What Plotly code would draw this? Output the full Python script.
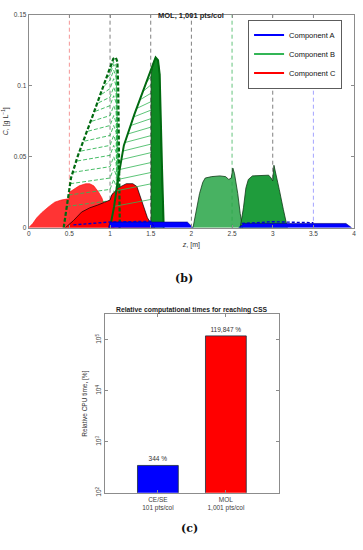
import plotly.graph_objects as go

# ---------------- Panel (b): MOL, 1,001 pts/col ----------------
z_ticks = [0, 0.5, 1, 1.5, 2, 2.5, 3, 3.5, 4]
z_tick_text = ['0', '0.5', '1', '1.5', '2', '2.5', '3', '3.5', '4']
c_ticks = [0, 0.05, 0.1, 0.15]
c_tick_text = ['0', '0.05', '0.1', '0.15']

# column boundaries / port positions (dashed vertical lines)
section_z = [0.5, 1, 1.5, 2, 2.5, 3, 3.5]

# Component C (red) profile envelopes
c1_z = [0, 0.05, 0.1, 0.16, 0.25, 0.32, 0.4, 0.5, 0.5, 0.55, 0.62, 0.7, 0.75, 0.8, 0.86, 0.9, 0.95, 1.0, 1.05]
c1_c = [0, 0.003, 0.007, 0.0106, 0.015, 0.018, 0.0195, 0.0205, 0.025, 0.027, 0.0295, 0.031, 0.031, 0.0295, 0.025, 0.021, 0.012, 0.004, 0]
c2_z = [0.45, 0.55, 0.65, 0.75, 0.85, 0.95, 1.0, 1.02, 1.1, 1.2, 1.28, 1.33, 1.37, 1.42, 1.46, 1.52, 1.55]
c2_c = [0, 0.005, 0.011, 0.014, 0.016, 0.018, 0.0195, 0.023, 0.028, 0.031, 0.031, 0.029, 0.022, 0.014, 0.007, 0.0015, 0]

# Component B (green): dashed profile family (zone 0.5-1.1 m)
b_dash_dark_z = [0.43, 0.46, 0.5, 0.52, 0.6, 0.7, 0.8, 0.9, 1.0, 1.04, 1.07, 1.09, 1.1, 1.11, 1.12]
b_dash_dark_c = [0, 0.012, 0.028, 0.035, 0.05, 0.065, 0.081, 0.097, 0.112, 0.119, 0.120, 0.117, 0.10, 0.05, 0]
b_dash_z = [
    [0.469, 1.0, 1.045, 1.075, 1.1, 1.115],
    [0.489, 1.0, 1.045, 1.075, 1.1, 1.115],
    [0.510, 1.0, 1.045, 1.075, 1.1, 1.115],
    [0.545, 1.0, 1.045, 1.075, 1.1, 1.115],
    [0.596, 1.0, 1.045, 1.075, 1.1, 1.115],
    [0.641, 1.0, 1.045, 1.075, 1.1, 1.115],
    [0.686, 1.0, 1.045, 1.075, 1.1, 1.115],
    [0.730, 1.0, 1.045, 1.075, 1.1, 1.115],
    [0.775, 1.0, 1.045, 1.075, 1.1, 1.115],
    [0.819, 1.0, 1.045, 1.075, 1.1, 1.115],
    [0.858, 1.0, 1.045, 1.075, 1.1, 1.115],
    [0.896, 1.0, 1.045, 1.075, 1.1, 1.115],
    [0.934, 1.0, 1.045, 1.075, 1.1, 1.115],
    [0.973, 1.0, 1.045, 1.075, 1.1, 1.115],
    [1.004, 1.045, 1.075, 1.1, 1.115],
]
b_dash_c = [
    [0.015, 0.019, 0.026, 0.021, 0.006, 0],
    [0.023, 0.027, 0.034, 0.029, 0.009, 0],
    [0.031, 0.035, 0.042, 0.037, 0.012, 0],
    [0.039, 0.043, 0.050, 0.045, 0.016, 0],
    [0.047, 0.051, 0.058, 0.053, 0.019, 0],
    [0.054, 0.058, 0.065, 0.060, 0.022, 0],
    [0.061, 0.065, 0.072, 0.067, 0.024, 0],
    [0.068, 0.072, 0.079, 0.074, 0.027, 0],
    [0.075, 0.079, 0.086, 0.081, 0.030, 0],
    [0.082, 0.086, 0.093, 0.088, 0.033, 0],
    [0.088, 0.092, 0.099, 0.094, 0.035, 0],
    [0.094, 0.098, 0.105, 0.100, 0.038, 0],
    [0.100, 0.104, 0.111, 0.106, 0.040, 0],
    [0.106, 0.108, 0.115, 0.111, 0.042, 0],
    [0.111, 0.117, 0.114, 0.044, 0],
]

# Component B: solid profile family (zone 1.0-1.66 m)
b_solid_dark_z = [1.0, 1.05, 1.1, 1.17, 1.3, 1.45, 1.53, 1.56, 1.59, 1.61, 1.64, 1.66]
b_solid_dark_c = [0, 0.015, 0.035, 0.058, 0.08, 0.103, 0.116, 0.120, 0.118, 0.108, 0.04, 0]
b_solid_z = [
    [1.050, 1.51], [1.078, 1.51], [1.098, 1.51], [1.118, 1.51], [1.140, 1.51],
    [1.158, 1.51], [1.182, 1.51], [1.217, 1.51], [1.253, 1.51], [1.288, 1.51],
    [1.326, 1.51], [1.365, 1.51], [1.404, 1.51], [1.443, 1.51], [1.481, 1.51],
]
b_solid_c = [
    [0.015, 0.020], [0.026, 0.031], [0.034, 0.039], [0.041, 0.046], [0.048, 0.053],
    [0.054, 0.059], [0.060, 0.065], [0.066, 0.071], [0.072, 0.077], [0.078, 0.083],
    [0.084, 0.089], [0.090, 0.095], [0.096, 0.101], [0.102, 0.107], [0.108, 0.111],
]
b_band_z = [1.505, 1.505, 1.53, 1.56, 1.59, 1.61, 1.635, 1.66]
b_band_c = [0, 0.108, 0.116, 0.120, 0.118, 0.108, 0.04, 0]

# Component B: plateaus in the 2-3.2 m zone
b_blob1_z = [2.02, 2.06, 2.1, 2.14, 2.17, 2.25, 2.35, 2.42, 2.46, 2.49, 2.51, 2.53, 2.57, 2.6, 2.63]
b_blob1_c = [0, 0.012, 0.024, 0.032, 0.035, 0.036, 0.0365, 0.036, 0.034, 0.035, 0.042, 0.038, 0.024, 0.01, 0]
b_blob2_z = [2.6, 2.64, 2.67, 2.7, 2.75, 2.85, 2.95, 2.98, 3.0, 3.015, 3.04, 3.08, 3.13, 3.18]
b_blob2_c = [0, 0.014, 0.028, 0.034, 0.0365, 0.037, 0.037, 0.035, 0.033, 0.044, 0.038, 0.027, 0.013, 0]

# Component A (blue)
a1_z = [0.98, 1.0, 1.95, 2.02]
a1_c = [0, 0.004, 0.004, 0]
a2_z = [2.58, 2.65, 3.9, 3.97]
a2_c = [0, 0.003, 0.003, 0]
a_dash1_z = [0.55, 1.0, 1.5, 1.55]
a_dash1_c = [0.002, 0.004, 0.0045, 0]
a_dash2_z = [2.62, 3.0, 3.5]
a_dash2_c = [0.003, 0.0042, 0.0035]

# ---------------- Panel (c): relative CPU times ----------------
methods = ['CE/SE<br>101 pts/col', 'MOL<br>1,001 pts/col']
rel_time = [344, 119847]
rel_labels = ['344 %', '119,847 %']
log_ticks = [1e2, 1e3, 1e4, 1e5]
log_tick_text = ['10<sup>2</sup>', '10<sup>3</sup>', '10<sup>4</sup>', '10<sup>5</sup>']

RED = '#ff0000'
GREEN_L = '#33b556'
GREEN_D = '#006a10'
BLUE = '#0000ff'
FONT = 'Liberation Sans, Arial, sans-serif'

fig = go.Figure()
T = dict(xaxis='x', yaxis='y', showlegend=False, hoverinfo='skip')

# red zone 1 (striped)
fig.add_trace(go.Scatter(x=c1_z, y=c1_c, mode='lines', fill='tozeroy',
                         fillcolor='rgba(255,30,30,0.9)', line=dict(color='rgba(255,0,0,1)', width=0.6), **T))
# light dashed green family
for zz, cc in zip(b_dash_z, b_dash_c):
    fig.add_trace(go.Scatter(x=zz, y=cc, mode='lines',
                             line=dict(color=GREEN_L, width=0.9, dash='4px,2px'), **T))
# red zone 2 (solid, black outline)
fig.add_trace(go.Scatter(x=c2_z, y=c2_c, mode='lines', fill='tozeroy',
                         fillcolor=RED, line=dict(color='#000000', width=0.7), **T))
# dark dashed green
fig.add_trace(go.Scatter(x=b_dash_dark_z, y=b_dash_dark_c, mode='lines',
                         line=dict(color=GREEN_D, width=2.2, dash='4px,2px'), **T))
# light solid green family
for zz, cc in zip(b_solid_z, b_solid_c):
    fig.add_trace(go.Scatter(x=zz, y=cc, mode='lines',
                             line=dict(color=GREEN_L, width=0.8), **T))
# dense green band
fig.add_trace(go.Scatter(x=b_band_z, y=b_band_c, mode='lines', fill='tozeroy',
                         fillcolor='#0d8a22', line=dict(color='#0a4010', width=0.8), **T))
# dark solid green
fig.add_trace(go.Scatter(x=b_solid_dark_z, y=b_solid_dark_c, mode='lines',
                         line=dict(color=GREEN_D, width=2.0), **T))
# green plateaus
fig.add_trace(go.Scatter(x=b_blob1_z, y=b_blob1_c, mode='lines', fill='tozeroy',
                         fillcolor='rgba(40,165,70,0.85)', line=dict(color='#103a18', width=0.8), **T))
fig.add_trace(go.Scatter(x=b_blob2_z, y=b_blob2_c, mode='lines', fill='tozeroy',
                         fillcolor='#1f9c3c', line=dict(color='#103a18', width=0.8), **T))
# blue
fig.add_trace(go.Scatter(x=a1_z, y=a1_c, mode='lines', fill='tozeroy',
                         fillcolor=BLUE, line=dict(color='#000080', width=0.6), **T))
fig.add_trace(go.Scatter(x=a2_z, y=a2_c, mode='lines', fill='tozeroy',
                         fillcolor=BLUE, line=dict(color='#000080', width=0.6), **T))
fig.add_trace(go.Scatter(x=a_dash1_z, y=a_dash1_c, mode='lines',
                         line=dict(color='#0000cc', width=1.4, dash='3px,2px'), **T))
fig.add_trace(go.Scatter(x=a_dash2_z, y=a_dash2_c, mode='lines',
                         line=dict(color='#0000cc', width=1.4, dash='3px,2px'), **T))

# legend entries
for name, col in [('Component A', BLUE), ('Component B', GREEN_L), ('Component C', RED)]:
    fig.add_trace(go.Scatter(x=[None], y=[None], mode='lines', name=name,
                             line=dict(color=col, width=2), xaxis='x', yaxis='y'))

# bars
fig.add_trace(go.Bar(x=methods, y=rel_time, text=rel_labels, textposition='outside',
                     textfont=dict(size=6.5, color='#333333', family=FONT),
                     marker=dict(color=[BLUE, RED], line=dict(color='#1c2c3c', width=0.8)),
                     width=0.6, cliponaxis=False, showlegend=False, xaxis='x2', yaxis='y2',
                     hoverinfo='skip'))

sec_colors = ['rgba(240,100,100,0.85)', '#606060', '#606060', '#606060', '#3cb45a', '#606060', 'rgba(120,120,255,0.85)']
shapes = []
for zs, col in zip(section_z, sec_colors):
    shapes.append(dict(type='line', xref='x', yref='y domain', x0=zs, x1=zs, y0=0, y1=1,
                       line=dict(color=col, width=0.8, dash='4px,3px'), layer='below'))

axis_common = dict(showgrid=False, zeroline=False, showline=True, linecolor='#8c8c8c', linewidth=1,
                   mirror='ticks', ticks='inside', ticklen=3, tickcolor='#8c8c8c',
                   tickfont=dict(size=6.5, color='#404040', family=FONT))

fig.update_layout(
    width=363, height=550, autosize=False,
    margin=dict(l=0, r=0, t=0, b=0),
    paper_bgcolor='white', plot_bgcolor='white',
    font=dict(family=FONT, color='#333333'),
    shapes=shapes,
    xaxis=dict(domain=[27/363, 356/363], range=[0, 4], tickvals=z_ticks, ticktext=z_tick_text,
               title=dict(text='<i>z</i>, [m]', font=dict(size=7, color='#333'), standoff=5),
               anchor='y', **axis_common),
    yaxis=dict(domain=[(550-227)/550, (550-11)/550], range=[0, 0.15], tickvals=c_ticks, ticktext=c_tick_text,
               title=dict(text='<i>C</i>, [g L<sup>\u22121</sup>]', font=dict(size=7, color='#333'), standoff=4),
               anchor='x', **axis_common),
    xaxis2=dict(domain=[104/363, 280/363], range=[-0.78, 1.78], type='category',
                anchor='y2', **axis_common),
    yaxis2=dict(domain=[(550-496)/550, (550-315)/550], type='log', range=[2, 5.5],
                tickvals=log_ticks, ticktext=log_tick_text, tickangle=-90,
                title=dict(text='Relative CPU time, [%]', font=dict(size=6.5, color='#333'), standoff=6),
                anchor='x2', **axis_common),
    legend=dict(x=249/363, y=(550-16)/550, xanchor='left', yanchor='top',
                bgcolor='white', bordercolor='#333333', borderwidth=0.8,
                font=dict(size=7.5, color='#111', family=FONT), itemwidth=30, tracegroupgap=0),
    annotations=[
        dict(text='<b>MOL, 1,001 pts/col</b>', x=191.5/363, y=(550-5)/550, xref='paper', yref='paper',
             showarrow=False, font=dict(size=7.5, color='#222', family=FONT)),
        dict(text='<b>(b)</b>', x=184/363, y=(550-279)/550, xref='paper', yref='paper',
             showarrow=False, font=dict(size=11, color='#111', family='DejaVu Serif, serif')),
        dict(text='<b>Relative computational times for reaching CSS</b>', x=192/363, y=(550-311)/550,
             xref='paper', yref='paper', showarrow=False, font=dict(size=6.8, color='#222', family=FONT)),
        dict(text='<b>(c)</b>', x=190/363, y=(550-541)/550, xref='paper', yref='paper',
             showarrow=False, font=dict(size=11, color='#111', family='DejaVu Serif, serif')),
    ],
)

fig.write_html('out.html', config={'displayModeBar': False},
               post_script="document.body.style.margin='0';document.body.style.padding='0';")
